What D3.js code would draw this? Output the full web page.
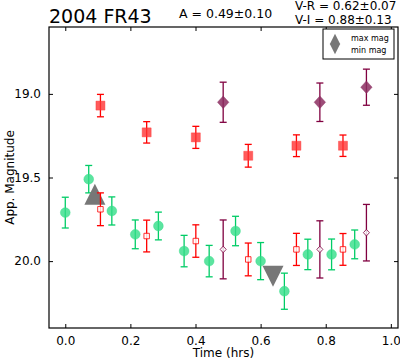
<!DOCTYPE html>
<html>
<head>
<meta charset="utf-8">
<script src="https://cdn.jsdelivr.net/npm/d3@7"></script>
<style>
body { margin: 0; background: #fff; }
svg { display: block; font-family: "DejaVu Sans", sans-serif; }
</style>
</head>
<body>
<svg id="chart" width="400" height="361"></svg>
<script>
// V band, green circles
var vTime = [0.0, 0.072, 0.143, 0.215, 0.286, 0.365, 0.442, 0.523, 0.600, 0.673, 0.745, 0.818, 0.889]
var vMag  = [19.71, 19.51, 19.70, 19.84, 19.79, 19.94, 20.00, 19.82, 20.00, 20.18, 19.96, 19.96, 19.90]
var vErr  = [0.092, 0.082, 0.084, 0.086, 0.083, 0.094, 0.094, 0.088, 0.111, 0.108, 0.091, 0.092, 0.086]

// R band, red filled squares, and shifted by V-R (open squares)
var rTime = [0.108, 0.250, 0.401, 0.562, 0.710, 0.853]
var rMag  = [19.07, 19.23, 19.26, 19.37, 19.31, 19.31]
var rErr  = [0.067, 0.064, 0.066, 0.068, 0.065, 0.064]
var rShiftMag = [19.69, 19.85, 19.88, 19.99, 19.93, 19.93]
var rShiftErr = [0.098, 0.095, 0.097, 0.098, 0.096, 0.095]

// I band, purple filled diamonds, and shifted by V-I (open diamonds)
var iTime = [0.485, 0.782, 0.925]
var iMag  = [19.05, 19.05, 18.96]
var iErr  = [0.120, 0.115, 0.108]
var iShiftMag = [19.93, 19.93, 19.83]
var iShiftErr = [0.176, 0.171, 0.169]

// max / min mag markers
var extTime = [0.091, 0.638]
var extMag  = [19.60, 20.09]
var extKind = ["max mag", "min mag"]

var xTicks = [0.0, 0.2, 0.4, 0.6, 0.8, 1.0]
var yTicks = [19.0, 19.5, 20.0]

var titleText = "2004 FR43"
var ampText = "A  = 0.49\u00b10.10"
var vrText = "V-R = 0.62\u00b10.07"
var viText = "V-I  = 0.88\u00b10.13"

var svg = d3.select("#chart")
var pLeft = 49, pRight = 398, pTop = 27, pBottom = 328

var x = d3.scaleLinear().domain([-0.05, 1.022]).range([pLeft, pRight])
var y = d3.scaleLinear().domain([18.6, 20.4]).range([pTop, pBottom])

var green = "#00cc66", greenFill = "#33dd88"
var red = "#ff0000", redFill = "#ff3333"
var purple = "#800040", purpleFill = "#8c2e60"

function pts(times, mags, errs)
{
    return times.map(function(t, i){ return {t: t, m: mags[i], e: errs ? errs[i] : 0} })
}

function errorBars(g, data, color, cap)
{
    var eb = g.append("g").selectAll("g").data(data).enter().append("g")
        .attr("stroke", color).attr("stroke-width", 1.3)
    eb.append("line")
        .attr("x1", function(d){ return x(d.t) }).attr("x2", function(d){ return x(d.t) })
        .attr("y1", function(d){ return y(d.m - d.e) }).attr("y2", function(d){ return y(d.m + d.e) })
    eb.append("line")
        .attr("x1", function(d){ return x(d.t) - cap }).attr("x2", function(d){ return x(d.t) + cap })
        .attr("y1", function(d){ return y(d.m - d.e) }).attr("y2", function(d){ return y(d.m - d.e) })
    eb.append("line")
        .attr("x1", function(d){ return x(d.t) - cap }).attr("x2", function(d){ return x(d.t) + cap })
        .attr("y1", function(d){ return y(d.m + d.e) }).attr("y2", function(d){ return y(d.m + d.e) })
}

function markers(g, data, shape, size, fill, stroke, sw, opacity)
{
    g.append("g").selectAll("path").data(data).enter().append("path")
        .attr("d", d3.symbol().type(shape).size(size))
        .attr("transform", function(d){ return "translate(" + x(d.t) + "," + y(d.m) + ")" })
        .attr("fill", fill).attr("fill-opacity", opacity)
        .attr("stroke", stroke).attr("stroke-width", sw).attr("stroke-opacity", opacity)
}

var diamond = {
    draw: function(ctx, size)
    {
        var w = Math.sqrt(size) / 2, h = w * 1.1
        ctx.moveTo(0, -h); ctx.lineTo(w, 0); ctx.lineTo(0, h); ctx.lineTo(-w, 0); ctx.closePath()
    }
}
var triUp = {
    draw: function(ctx, size)
    {
        var s = Math.sqrt(size) / 2
        ctx.moveTo(0, -s); ctx.lineTo(s, s); ctx.lineTo(-s, s); ctx.closePath()
    }
}
var triDown = {
    draw: function(ctx, size)
    {
        var s = Math.sqrt(size) / 2
        ctx.moveTo(0, s); ctx.lineTo(s, -s); ctx.lineTo(-s, -s); ctx.closePath()
    }
}

var plot = svg.append("g")

// green V points
errorBars(plot, pts(vTime, vMag, vErr), green, 3.5)
markers(plot, pts(vTime, vMag), d3.symbolCircle, 75, greenFill, greenFill, 0.5, 0.8)

// extremes
plot.append("g").selectAll("path").data(pts(extTime, extMag)).enter().append("path")
    .attr("d", function(d, i){ return d3.symbol().type(i === 0 ? triUp : triDown).size(441)() })
    .attr("transform", function(d){ return "translate(" + x(d.t) + "," + y(d.m) + ")" })
    .attr("fill", "#777777")

// red
errorBars(plot, pts(rTime, rMag, rErr), red, 3.5)
markers(plot, pts(rTime, rMag), d3.symbolSquare, 81, redFill, redFill, 0.5, 0.8)
errorBars(plot, pts(rTime, rShiftMag, rShiftErr), red, 3.5)
markers(plot, pts(rTime, rShiftMag), d3.symbolSquare, 30, "#ffffff", red, 1, 0.8)

// purple
errorBars(plot, pts(iTime, iMag, iErr), purple, 3.5)
markers(plot, pts(iTime, iMag), diamond, 130, purpleFill, purpleFill, 0.5, 0.85)
errorBars(plot, pts(iTime, iShiftMag, iShiftErr), purple, 3.5)
markers(plot, pts(iTime, iShiftMag), diamond, 36, "#ffffff", purple, 1, 0.8)

// frame and ticks
var axes = svg.append("g")
axes.append("rect").attr("x", pLeft).attr("y", pTop).attr("width", pRight - pLeft).attr("height", pBottom - pTop)
    .attr("fill", "none").attr("stroke", "#000").attr("stroke-width", 1.2)

axes.append("g").attr("transform", "translate(0," + pBottom + ")")
    .call(d3.axisBottom(x).tickValues(xTicks).tickSizeInner(-4).tickSizeOuter(0).tickPadding(8).tickFormat(d3.format(".1f")))
axes.append("g").attr("transform", "translate(0," + pTop + ")")
    .call(d3.axisTop(x).tickValues(xTicks).tickSizeInner(-4).tickSizeOuter(0).tickFormat(""))
axes.append("g").attr("transform", "translate(" + pLeft + ",0)")
    .call(d3.axisLeft(y).tickValues(yTicks).tickSizeInner(-4).tickSizeOuter(0).tickPadding(8).tickFormat(d3.format(".1f")))
axes.append("g").attr("transform", "translate(" + pRight + ",0)")
    .call(d3.axisRight(y).tickValues(yTicks).tickSizeInner(-4).tickSizeOuter(0).tickFormat(""))
axes.selectAll(".domain").remove()
axes.selectAll(".tick line").attr("stroke", "#000").attr("stroke-width", 1)
axes.selectAll(".tick text").attr("font-size", 12).attr("font-family", "DejaVu Sans").attr("fill", "#000")

// labels
svg.append("text").attr("x", (pLeft + pRight) / 2).attr("y", 357).attr("text-anchor", "middle")
    .attr("font-size", 12).text("Time (hrs)")
svg.append("text").attr("transform", "translate(14," + ((pTop + pBottom) / 2) + ") rotate(-90)")
    .attr("text-anchor", "middle").attr("font-size", 12).text("App. Magnitude")

svg.append("text").attr("x", pLeft).attr("y", 22.5).attr("font-size", 19).text(titleText)
svg.append("text").attr("x", 179).attr("y", 17.5).attr("font-size", 12.5).text(ampText)
svg.append("text").attr("x", 295).attr("y", 10).attr("font-size", 12).text(vrText)
svg.append("text").attr("x", 295).attr("y", 23.5).attr("font-size", 12).text(viText)

// legend
var lg = svg.append("g")
lg.append("rect").attr("x", 323).attr("y", 29).attr("width", 71).attr("height", 30)
    .attr("fill", "#fff").attr("stroke", "#000").attr("stroke-width", 1)
lg.append("path").attr("d", d3.symbol().type(triUp).size(110)())
    .attr("transform", "translate(335,39)").attr("fill", "#777777")
lg.append("path").attr("d", d3.symbol().type(triDown).size(110)())
    .attr("transform", "translate(335,49)").attr("fill", "#777777")
lg.selectAll("text.leg").data(extKind).enter().append("text")
    .attr("x", 351).attr("y", function(d, i){ return 41 + i * 12 })
    .attr("font-size", 8).text(function(d){ return d })
</script>
</body>
</html>
